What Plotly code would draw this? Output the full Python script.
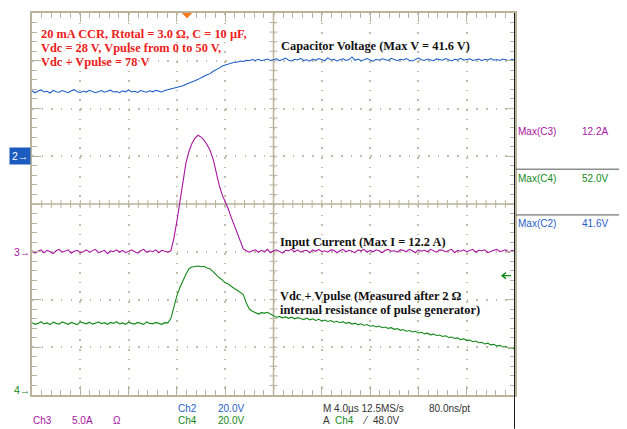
import plotly.graph_objects as go

# ---------------- data ----------------
# samples every 0.25 us from t = 0 to 40 us (161 samples per channel)
t_start_us = 0.0
t_step_us = 0.25

# Ch2: capacitor voltage (V), 20 V/div
v_cap = [
    27.4, 26.6, 27.3, 27.8, 26.9, 27.2, 26.5, 27.6, 27.0, 26.8,
    27.5, 27.1, 26.6, 27.4, 27.9, 27.0, 26.7, 27.3, 26.9, 27.6,
    27.2, 26.6, 27.0, 27.5, 26.8, 27.3, 27.7, 26.9, 27.1, 26.6,
    27.4, 27.0, 27.8, 26.9, 27.2, 26.7, 27.5, 27.1, 26.8, 27.4,
    27.0, 27.6, 27.2, 26.9, 27.5, 27.8,
    28.0, 28.4, 28.7, 28.9, 29.5, 30.2, 30.6, 31.3, 31.6, 32.2,
    32.7, 33.5, 34.1, 34.6, 35.6, 36.1, 36.9, 37.8, 38.2, 38.9,
    39.0, 39.4, 39.4, 39.9, 39.7, 40.2, 40.0, 40.5, 40.1, 40.6,
    40.0, 40.4, 40.7, 40.1, 40.4,
    40.8, 40.0, 40.5, 41.1, 40.2, 39.9, 40.6, 40.3, 41.0, 40.1,
    40.4, 39.8, 40.7, 40.2, 40.9, 40.5, 40.0, 41.2, 40.3, 40.6,
    39.9, 40.4, 40.8, 40.1, 40.5, 41.6, 40.2, 40.7, 40.0, 40.4,
    40.9, 40.3, 39.8, 40.6, 40.2, 40.8, 40.4, 40.1, 41.0, 40.5,
    40.0, 40.6, 40.3, 40.9, 40.2, 39.9, 40.5, 41.1, 40.4, 40.1,
    40.7, 40.3, 40.0, 40.8, 40.5, 40.2, 40.9, 40.4, 39.9, 40.6,
    40.3, 41.0, 40.2, 40.5, 40.8, 40.1, 40.4, 40.7, 40.0, 40.6,
    40.3, 40.9, 40.2, 40.5, 40.1, 40.7, 40.4, 40.0, 40.6, 40.3,
]

# Ch3: input current (A), 5 A/div
i_cur = [
    0.1, -0.15, 0.05, 0.2, -0.1, 0.15, 0.0, -0.2, 0.1, 0.25,
    -0.05, 0.1, 0.2, -0.15, 0.05, 0.15, -0.1, 0.0, 0.2, -0.05,
    0.1, 0.25, -0.1, 0.05, 0.15, -0.2, 0.1, 0.0, 0.2, -0.05,
    0.15, -0.1, 0.05, 0.2, 0.0, -0.15, 0.1, 0.25, -0.05, 0.1,
    0.0, 0.2, -0.1, 0.15, 0.05, -0.05, 0.1,
    1.4, 3.2, 5.3, 7.4, 9.3, 10.5, 11.35, 11.9, 12.2, 12.0,
    11.7, 11.2, 10.6, 9.7, 8.3, 7.0, 5.95, 5.3, 4.5, 3.6,
    2.8, 2.0, 1.2, 0.3, 0.1, -0.05,
    0.1, 0.2, -0.05, 0.15, 0.0, 0.25, -0.1, 0.1, 0.2, 0.05,
    -0.15, 0.15, 0.1, 0.25, 0.0, 0.2, -0.05, 0.1, 0.15, -0.1,
    0.2, 0.05, 0.25, 0.0, 0.1, -0.05, 0.2, 0.15, -0.1, 0.1,
    0.25, 0.0, 0.15, 0.05, -0.1, 0.2, 0.1, 0.25, -0.05, 0.15,
    0.0, 0.2, 0.1, -0.1, 0.15, 0.25, 0.05, 0.1, -0.05, 0.2,
    0.15, 0.0, 0.25, 0.1, -0.1, 0.2, 0.05, 0.15, 0.0, 0.25,
    0.1, -0.05, 0.2, 0.15, 0.0, 0.1, 0.25, -0.1, 0.15, 0.05,
    0.2, 0.0, 0.1, 0.25, -0.05, 0.15, 0.1, 0.2, -0.1, 0.05,
    0.15, 0.25, 0.0, 0.1, 0.2, -0.05, 0.15, 0.05,
]

# Ch4: Vdc + Vpulse (V), 20 V/div
v_pls = [
    28.3, 27.6, 28.0, 28.7, 27.8, 28.2, 27.5, 28.5, 28.0, 27.7,
    28.6, 28.1, 27.6, 28.4, 28.0, 27.5, 28.6, 28.2, 27.8, 28.5,
    27.7, 28.1, 28.6, 27.9, 28.3, 27.6, 28.4, 28.0, 28.7, 27.8,
    28.2, 27.6, 28.5, 28.0, 27.7, 28.4, 28.1, 27.6, 28.6, 28.0,
    27.8, 28.4, 28.0, 27.6, 28.3, 28.2,
    30.0, 35.5, 39.6, 43.0, 46.1, 48.6, 50.9, 51.6, 51.8, 52.0,
    51.7, 51.9, 51.2, 50.8, 49.7, 48.3, 47.1, 46.2, 45.0, 44.5,
    43.4, 42.6, 41.9, 40.9, 40.1, 36.5, 34.0, 33.1, 32.6, 31.9,
    32.5, 32.3, 32.6, 31.8, 31.2, 30.6,
    30.9, 30.3, 30.7, 30.1, 30.6, 29.9, 30.4, 30.0, 29.6, 30.2,
    29.5, 29.9, 29.2, 29.7, 29.0, 29.4, 28.8, 29.2, 28.5, 28.9,
    28.3, 28.7, 28.0, 28.4, 27.7, 28.1, 27.4, 27.8, 27.1, 27.5,
    26.8, 27.1, 26.5, 26.9, 26.2, 26.5, 25.9, 26.2, 25.5, 25.8,
    25.1, 25.4, 24.7, 25.0, 24.4, 24.7, 24.0, 24.3, 23.6, 23.9,
    23.2, 23.5, 22.9, 23.1, 22.5, 22.8, 22.1, 22.3, 21.7, 21.9,
    21.2, 21.5, 20.8, 21.0, 20.3, 20.6, 19.9, 20.1, 19.4, 19.7,
    19.0, 19.2, 18.5, 18.8, 18.1, 18.3, 17.6, 17.8, 17.2,
]

# channel settings
ch_scale = {"C2": 20.0, "C3": 5.0, "C4": 20.0}      # units per division
ch_ground = {"C2": 5.0, "C3": 3.0, "C4": 0.1}       # ground marker, divisions from bottom
trigger_time = 12.84
trigger_level = 48.0

max_labels = ["Max(C3)", "Max(C4)", "Max(C2)"]
max_values = ["12.2A", "52.0V", "41.6V"]

# ---------------- geometry (screen pixels; page body has an 8px margin) ----------------
PAGE_OFF = 8
SW, SH = 627, 429                  # screen window
GL, GR, GT, GB = 32, 515, 11, 395  # graticule edges on screen
W, H = SW - PAGE_OFF, SH - PAGE_OFF
ML, MT = GL - PAGE_OFF, GT - PAGE_OFF
PW, PH = GR - GL, GB - GT
MR, MB = W - ML - PW, H - MT - PH
NX, NY = 10, 8
TDIV = 4.0
XMAX = NX * TDIV

GRAT = "#b9b39d"
DOT = "#c3bda8"
BLUE = "#1f5ec8"
MAG = "#a8139f"
GRN = "#14891a"
RED = "#ee2020"
SCOPE_FONT = "Arial, Liberation Sans, sans-serif"
SERIF = "Times New Roman, Liberation Serif, serif"


def py2paper(py):
    return (GB - py) / PH


def px2paper(px):
    return (px - GL) / PW


def yrange(ch):
    s, g = ch_scale[ch], ch_ground[ch]
    return [-g * s, (NY - g) * s]


fig = go.Figure()
for vals, ax, col in ((i_cur, "y3", MAG), (v_pls, "y4", GRN), (v_cap, "y2", BLUE)):
    fig.add_trace(go.Scatter(y=vals, x0=t_start_us, dx=t_step_us, yaxis=ax, mode="lines",
                             line=dict(color=col, width=1.1), hoverinfo="skip",
                             showlegend=False))

# ---------------- graticule shapes ----------------
shapes = []
shapes.append(dict(type="line", xref="x", yref="y", x0=XMAX / 2, x1=XMAX / 2, y0=0, y1=NY,
                   line=dict(color=GRAT, width=1.5), layer="below"))
shapes.append(dict(type="line", xref="x", yref="y", x0=0, x1=XMAX, y0=NY / 2, y1=NY / 2,
                   line=dict(color=GRAT, width=1.5), layer="below"))
hx = 4 * XMAX / PW
hy = 4 * NY / PH
p = ""
for k in range(1, NY * 5):
    y = k * 0.2
    p += f"M{XMAX/2 - hx},{y} L{XMAX/2 + hx},{y} "
for k in range(1, NX * 5):
    x = k * TDIV / 5
    p += f"M{x},{NY/2 - hy} L{x},{NY/2 + hy} "
shapes.append(dict(type="path", xref="x", yref="y", path=p,
                   line=dict(color=GRAT, width=1), layer="below"))

# trigger position marker (top)
tx = 5 * XMAX / PW
ty = 5 * NY / PH
shapes.append(dict(type="path", xref="x", yref="y",
                   path=f"M{trigger_time - tx},{NY} L{trigger_time + tx},{NY} L{trigger_time},{NY - ty} Z",
                   fillcolor="#f57a20", line=dict(color="#f57a20", width=0.5)))

# trigger level marker: small left-pointing arrow near the right edge (Ch4 scale)
us_per_px = XMAX / PW
v_per_px = ch_scale["C4"] / (PH / NY)
a_tip = XMAX - 13 * us_per_px
a_tail = XMAX - 4 * us_per_px
a_head = a_tip + 4 * us_per_px
a_h = 3 * v_per_px
shapes.append(dict(type="path", xref="x", yref="y4",
                   path=(f"M{a_tail},{trigger_level} L{a_tip},{trigger_level} "
                         f"M{a_head},{trigger_level + a_h} L{a_tip},{trigger_level} "
                         f"L{a_head},{trigger_level - a_h}"),
                   line=dict(color=GRN, width=1.3)))

# right dark border
shapes.append(dict(type="line", xref="x", yref="paper", x0=XMAX, x1=XMAX,
                   y0=py2paper(SH), y1=1, line=dict(color="#1c1c1c", width=2)))
# right panel separators
for py in (168, 214):
    shapes.append(dict(type="line", xref="paper", yref="paper", x0=1.002, x1=px2paper(SW),
                       y0=py2paper(py), y1=py2paper(py), line=dict(color="#555555", width=1)))

# ---------------- annotations ----------------
ann = []


def txt(text, px, py, color, size=10, family=SCOPE_FONT, xanchor="left"):
    ann.append(dict(text=text, x=px2paper(px), y=py2paper(py), xref="paper", yref="paper",
                    xanchor=xanchor, yanchor="middle", showarrow=False,
                    font=dict(color=color, size=size, family=family), borderpad=0))


# red description
txt("<b>20 mA CCR, Rtotal = 3.0 Ω, C = 10 µF,</b>", 40, 32, RED, 12.4, SERIF)
txt("<b>Vdc = 28 V, Vpulse from 0 to 50 V,</b>", 40, 46, RED, 12.4, SERIF)
txt("<b>Vdc + Vpulse = 78 V</b>", 40, 60, RED, 12.4, SERIF)
# black labels
txt("<b>Capacitor Voltage (Max V = 41.6 V)</b>", 280, 44, "#111111", 12.4, SERIF)
txt("<b>Input Current (Max I = 12.2 A)</b>", 279, 241, "#111111", 12.4, SERIF)
txt("<b>Vdc + Vpulse (Measured after 2 Ω</b>", 279, 295, "#111111", 12.4, SERIF)
txt("<b>internal resistance of pulse generator)</b>", 279, 310, "#111111", 12.4, SERIF)

# right panel measurements
for lab, val, py, col in zip(max_labels, max_values, (130, 177, 223), (MAG, GRN, BLUE)):
    txt(lab, 517, py, col, 10)
    txt(val, 581, py, col, 10)

# bottom status line
txt("Ch2", 177, 409, BLUE)
txt("20.0V", 217, 409, BLUE)
txt("M 4.0µs 12.5MS/s", 322, 409, "#333333")
txt("80.0ns/pt", 428, 409, "#333333")
txt("Ch3", 32, 421, MAG)
txt("5.0A", 71, 421, MAG)
txt("Ω", 112, 421, MAG)
txt("Ch4", 177, 421, GRN)
txt("20.0V", 217, 421, GRN)
txt("A", 322, 421, "#333333")
txt("Ch4", 334, 421, GRN)
txt("⁄", 361, 421, "#333333")
txt("48.0V", 372, 421, "#333333")

# ground markers
ann.append(dict(text="2→", x=px2paper(31), xanchor="right", xref="paper",
                y=0, yref="y2", yanchor="middle", showarrow=False, bgcolor="#1c5cbf",
                borderpad=2, font=dict(color="white", size=10.5, family=SCOPE_FONT)))
ann.append(dict(text="3→", x=px2paper(32), xanchor="right", xref="paper",
                y=0, yref="y3", yanchor="middle", showarrow=False,
                font=dict(color=MAG, size=10.5, family=SCOPE_FONT)))
ann.append(dict(text="4→", x=px2paper(32), xanchor="right", xref="paper",
                y=0, yref="y4", yanchor="middle", showarrow=False,
                font=dict(color=GRN, size=10.5, family=SCOPE_FONT)))

axis_common = dict(showticklabels=False, zeroline=False, showline=True, linecolor=GRAT,
                   linewidth=1.5, mirror="ticks", ticks="inside", tickcolor=GRAT,
                   tickwidth=1, ticklen=9, showgrid=True, gridcolor=DOT, gridwidth=1.5,
                   fixedrange=True)

fig.update_layout(
    width=W, height=H, margin=dict(l=ML, r=MR, t=MT, b=MB),
    paper_bgcolor="white", plot_bgcolor="white",
    xaxis=dict(range=[0, XMAX], dtick=TDIV, tick0=0, griddash="1.5px,8.1px",
               minor=dict(dtick=TDIV / 5, ticks="inside", ticklen=5, tickcolor=GRAT,
                          tickwidth=1, showgrid=False),
               **axis_common),
    yaxis=dict(range=[0, NY], dtick=1, tick0=0, griddash="1.5px,8.16px",
               minor=dict(dtick=0.2, ticks="inside", ticklen=5, tickcolor=GRAT,
                          tickwidth=1, showgrid=False),
               **axis_common),
    yaxis2=dict(overlaying="y", range=yrange("C2"), visible=False, fixedrange=True),
    yaxis3=dict(overlaying="y", range=yrange("C3"), visible=False, fixedrange=True),
    yaxis4=dict(overlaying="y", range=yrange("C4"), visible=False, fixedrange=True),
    shapes=shapes, annotations=ann, showlegend=False,
)

fig.write_html("out.html")
